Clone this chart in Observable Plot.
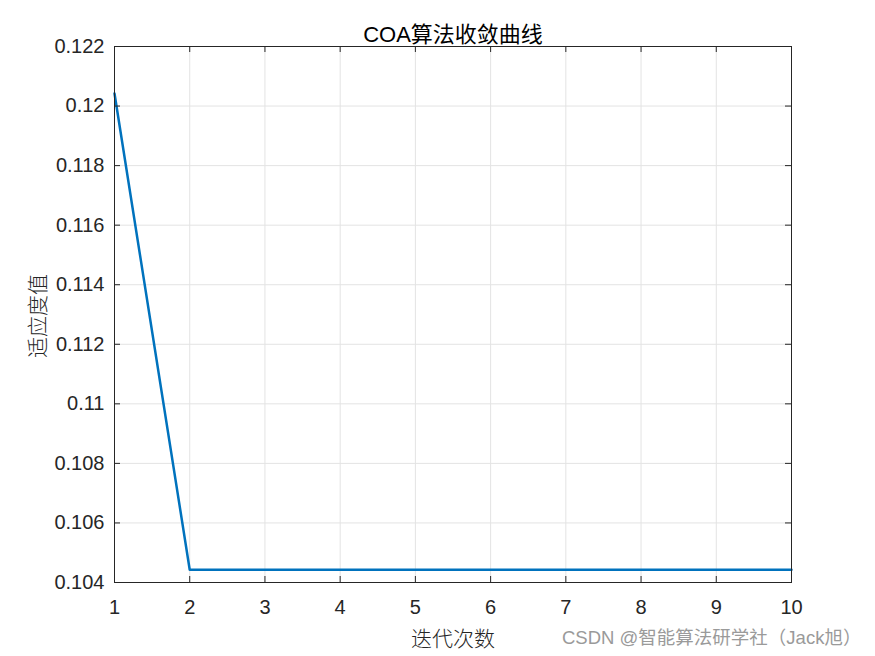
<!DOCTYPE html>
<html>
<head>
<meta charset="utf-8">
<script src="https://cdn.jsdelivr.net/npm/d3@7"></script>
<script src="https://cdn.jsdelivr.net/npm/@observablehq/plot@0.6"></script>
<style>
  html, body { margin: 0; padding: 0; background: #fff; }
  #wrap { position: relative; width: 875px; height: 656px; overflow: hidden; }
  .lbl { position: absolute; white-space: nowrap; color: #262626; }
</style>
</head>
<body>
<div id="wrap"></div>
<script>
const iterations = [1, 2, 3, 4, 5, 6, 7, 8, 9, 10];
const fitness = [0.12042, 0.10443, 0.10443, 0.10443, 0.10443, 0.10443, 0.10443, 0.10443, 0.10443, 0.10443];
const xTicks = [1, 2, 3, 4, 5, 6, 7, 8, 9, 10];
const yTicks = [0.104, 0.106, 0.108, 0.11, 0.112, 0.114, 0.116, 0.118, 0.12, 0.122];
const titleText = "COA算法收敛曲线";
const xLabel = "迭代次数";
const yLabel = "适应度值";
const watermark = "CSDN @智能算法研学社（Jack旭）";

const data = iterations.map((x, i) => ({x, y: fitness[i]}));
const W = 875, H = 656;
const mL = 114, mR = 84, mT = 46, mB = 74;
const fw = W - mL - mR, fh = H - mT - mB;
const tk = 6;
const ink = "#262626";

const chart = Plot.plot({
  width: W, height: H,
  marginLeft: mL, marginRight: mR, marginTop: mT, marginBottom: mB,
  style: {fontFamily: "Arial, 'Liberation Sans', sans-serif", fontSize: "20px", color: ink, background: "#fff"},
  x: {domain: [1, 10], ticks: xTicks},
  y: {domain: [0.104, 0.122], ticks: yTicks},
  marks: [
    Plot.ruleX(xTicks, {x: d => d, stroke: "#e3e3e3", strokeWidth: 1}),
    Plot.ruleY(yTicks, {y: d => d, stroke: "#e3e3e3", strokeWidth: 1}),
    Plot.line(data, {x: "x", y: "y", stroke: "#0072BD", strokeWidth: 2.5}),
    Plot.frame({stroke: ink, strokeWidth: 1}),
    Plot.ruleX(xTicks, {x: d => d, insetTop: fh - tk, stroke: ink}),
    Plot.ruleX(xTicks, {x: d => d, insetBottom: fh - tk, stroke: ink}),
    Plot.ruleY(yTicks, {y: d => d, insetRight: fw - tk, stroke: ink}),
    Plot.ruleY(yTicks, {y: d => d, insetLeft: fw - tk, stroke: ink}),
    Plot.axisX(xTicks, {tickSize: 0, tickPadding: 17, label: null, fill: ink, fontSize: 20}),
    Plot.axisY(yTicks, {tickSize: 0, tickPadding: 10, label: null, fill: ink, fontSize: 20, tickFormat: d => String(+d.toFixed(3))})
  ]
});

const wrap = document.getElementById("wrap");
wrap.appendChild(chart);

function addLabel(text, css) {
  const d = document.createElement("div");
  d.className = "lbl";
  d.textContent = text;
  Object.assign(d.style, css);
  wrap.appendChild(d);
  return d;
}
addLabel(titleText, {left: "453px", top: "32px", transform: "translate(-50%,-50%)", fontFamily: "Arial, 'Liberation Sans', 'Noto Sans CJK SC', sans-serif", fontSize: "22px", color: "#000"});
addLabel(xLabel, {left: "453px", top: "637px", transform: "translate(-50%,-50%)", fontFamily: "'Noto Sans CJK SC', sans-serif", fontWeight: "300", fontSize: "21px"});
addLabel(yLabel, {left: "36px", top: "316px", transform: "translate(-50%,-50%) rotate(-90deg)", fontFamily: "'Noto Sans CJK SC', sans-serif", fontWeight: "300", fontSize: "21px"});
addLabel(watermark, {left: "562px", top: "636px", transform: "translate(0,-50%)", fontFamily: "Arial, 'Liberation Sans', 'Noto Sans CJK SC', sans-serif", fontSize: "18.5px", color: "#9a9a9a"});
</script>
</body>
</html>
